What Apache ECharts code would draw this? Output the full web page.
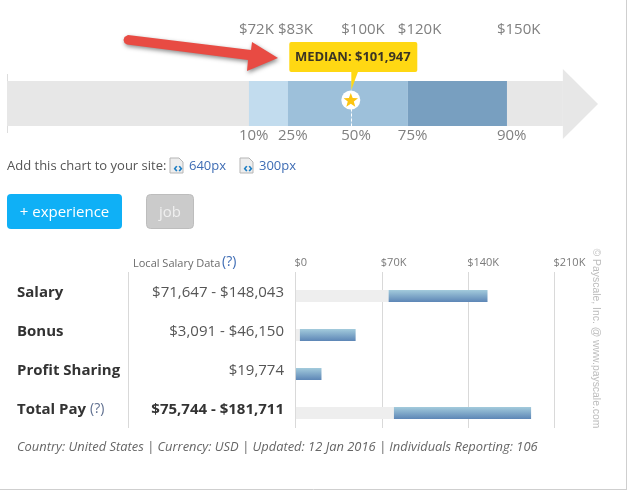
<!DOCTYPE html>
<html>
<head>
<meta charset="utf-8">
<style>html,body{margin:0;padding:0;background:#fff}#chart{width:629px;height:492px}</style>
<script src="https://cdn.jsdelivr.net/npm/echarts@6/dist/echarts.min.js"></script>
</head>
<body>
<div id="chart"></div>
<script>
// Percentile strip
const percentileValues = [71647, 83200, 101947, 118700, 148043];
const percentileMoney = ['$72K', '$83K', '$100K', '$120K', '$150K'];
const percentileNames = ['10%', '25%', '50%', '75%', '90%'];
const bandColors = ['#c2dcee', '#9dc0da', '#9dc0da', '#789fc0'];
const medianValue = 101947;
const medianText = 'MEDIAN: $101,947';
const stripMax = 175000;
const shaftEnd = 164600;

// Pay table
const payRows = ['Salary', 'Bonus', 'Profit Sharing', 'Total Pay'];
const payRangeText = ['$71,647 - $148,043', '$3,091 - $46,150', '$19,774', '$75,744 - $181,711'];
const payLow = [71647, 3091, 0, 75744];
const payHigh = [148043, 46150, 19774, 181711];
const payTicks = [0, 70000, 140000, 210000];
const payTickText = ['$0', '$70K', '$140K', '$210K'];

const FONT = '"Open Sans", sans-serif';
const chart = echarts.init(document.getElementById('chart'));

function text(x, y, str, o) {
  o = o || {};
  return {
    type: 'text', x: x, y: y, z: o.z || 5, rotation: o.rotation || 0,
    style: {
      text: str, fontFamily: o.family || FONT, fontSize: o.size || 13,
      fontWeight: o.weight || 'normal', fontStyle: o.italic ? 'italic' : 'normal',
      fill: o.color || '#555', align: o.align || 'left', verticalAlign: 'middle'
    }
  };
}
function rule(x1, y1, x2, y2, color) {
  return { type: 'line', z: 1, shape: { x1, y1, x2, y2 }, style: { stroke: color, lineWidth: 1 } };
}
function embedIcon(x, y) {
  return [
    { type: 'polygon', z: 5, shape: { points: [[x, y], [x + 9, y], [x + 13, y + 4], [x + 13, y + 15], [x, y + 15]] },
      style: { fill: '#eeeeee', stroke: '#b5b5b5', lineWidth: 1 } },
    text(x + 8, y + 10, '‹›', { size: 13, weight: 'bold', color: '#1f7fc4', align: 'center' })
  ];
}

const graphics = [
  // page frame
  rule(626.5, 0, 626.5, 489.5, '#cfcfcf'),
  rule(0, 489.5, 627, 489.5, '#cfcfcf'),
  // start of the strip
  rule(7.5, 74, 7.5, 133, '#dddddd'),
  // call-out arrow pointing at the median box
  { type: 'polygon', z: 8,
    shape: { points: [[128, 35], [251, 50], [252, 42], [278, 58], [247, 71], [248, 60], [127, 44.5], [124.5, 43], [123.5, 40], [124.5, 37]] },
    style: { fill: '#e84b43', shadowBlur: 4, shadowOffsetX: 1, shadowOffsetY: 2, shadowColor: 'rgba(0,0,0,0.45)' } },
  // embed line
  text(7, 166.5, 'Add this chart to your site:', { size: 13, color: '#555' }),
  ...embedIcon(170, 158), text(189, 166.5, '640px', { size: 13, color: '#3e6cb4' }),
  ...embedIcon(240, 158), text(259, 166.5, '300px', { size: 13, color: '#3e6cb4' }),
  // filter buttons
  { type: 'rect', z: 3, shape: { x: 7, y: 194, width: 115, height: 35, r: 4 }, style: { fill: '#0fb0f6' } },
  text(64.5, 213, '+ experience', { size: 15, color: '#ffffff', align: 'center' }),
  { type: 'rect', z: 3, shape: { x: 146.5, y: 194.5, width: 47, height: 34, r: 4 }, style: { fill: '#cbcbcb', stroke: '#bdbdbd' } },
  text(170, 213, 'job', { size: 15, color: '#efefef', align: 'center' }),
  // table header and divider
  text(133, 263.5, 'Local Salary Data', { size: 11, color: '#6b6b6b' }),
  text(222, 262.5, '(?)', { size: 14, color: '#3e6cb4' }),
  rule(128.5, 272, 128.5, 428, '#d9d9d9'),
  // footer and copyright
  text(17, 447.5, 'Country: United States | Currency: USD | Updated: 12 Jan 2016 | Individuals Reporting: 106',
    { size: 12.9, italic: true, color: '#666' }),
  text(596, 338.5, '© Payscale, Inc. @ www.payscale.com',
    { size: 10.4, color: '#bdbdbd', align: 'center', rotation: -Math.PI / 2, family: '"Liberation Sans", sans-serif' })
];

// Row captions and the stated ranges
payRows.forEach(function (name, i) {
  const y = 292.5 + i * 39;
  graphics.push(text(17, y, name, { size: 15, weight: 'bold', color: '#333' }));
  graphics.push(text(284, y, payRangeText[i], {
    size: 15, align: 'right', weight: i === 3 ? 'bold' : 'normal', color: i === 3 ? '#333' : '#555'
  }));
});
graphics.push(text(90, 409.5, '(?)', { size: 14, color: '#5f6f8f' }));

const barFill = {
  type: 'linear', x: 0, y: 0, x2: 0, y2: 1,
  colorStops: [{ offset: 0, color: '#a3cbdc' }, { offset: 1, color: '#5d86b6' }]
};

chart.setOption({
  animation: false,
  backgroundColor: '#ffffff',
  graphic: { elements: graphics },
  grid: [
    { left: 7, width: 591, top: 81, height: 45 },
    { left: 295.5, width: 259, top: 272, height: 156 }
  ],
  xAxis: [
    { gridIndex: 0, type: 'value', min: 0, max: stripMax, show: false },
    // visible pay scale with its gridlines
    { gridIndex: 1, type: 'value', position: 'top', min: 0, max: 210000, interval: 70000,
      axisLine: { show: false }, axisTick: { show: false },
      splitLine: { show: true, lineStyle: { color: '#d9d9d9', width: 1 } },
      axisLabel: {
        show: true, margin: 4, align: 'left', fontFamily: FONT, fontSize: 11, color: '#7a7a7a',
        customValues: payTicks, padding: [0, 0, 0, -1],
        formatter: function (v) { return payTickText[payTicks.indexOf(v)]; }
      } },
    // the bars run on a slightly tighter inner scale of the same width
    { gridIndex: 1, type: 'value', min: -300, max: 199800, show: false }
  ],
  yAxis: [
    { gridIndex: 0, type: 'value', min: 0, max: 1, show: false },
    { gridIndex: 1, type: 'value', inverse: true, min: -0.615, max: 3.385, show: false }
  ],
  series: [
    // grey shaft, head and coloured percentile bands
    { type: 'custom', xAxisIndex: 0, yAxisIndex: 0, silent: true, z: 2,
      data: [[0, percentileValues[0]], [percentileValues[4], shaftEnd]].concat(
        bandColors.map(function (c, i) { return [percentileValues[i], percentileValues[i + 1]]; })),
      renderItem: function (p, api) {
        const a = api.coord([api.value(0), 1]), b = api.coord([api.value(1), 0]);
        return { type: 'rect', shape: { x: a[0], y: a[1], width: b[0] - a[0], height: b[1] - a[1] },
          style: { fill: p.dataIndex < 2 ? '#e7e7e7' : bandColors[p.dataIndex - 2] } };
      }, encode: { x: [0, 1] } },
    { type: 'custom', xAxisIndex: 0, yAxisIndex: 0, silent: true, z: 2,
      data: [[shaftEnd, stripMax]],
      renderItem: function (p, api) {
        const base = api.value(0), tip = api.value(1);
        return { type: 'polygon', shape: { points: [
          api.coord([base, 1.267]), api.coord([tip, 0.49]), api.coord([base, -0.289])
        ] }, style: { fill: '#e7e7e7' } };
      } },
    // percentile captions above and below the strip
    { type: 'custom', xAxisIndex: 0, yAxisIndex: 0, silent: true, z: 3,
      data: percentileValues.map(function (v) { return [v]; }),
      renderItem: function (p, api) {
        const c = api.coord([api.value(0), 0]);
        const style = { fontFamily: FONT, fontSize: 15, fill: '#808080', verticalAlign: 'middle', align: 'left' };
        return { type: 'group', children: [
          { type: 'text', x: c[0] - 10, y: 30, style: Object.assign({ text: percentileMoney[p.dataIndex] }, style) },
          { type: 'text', x: c[0] - 10, y: 136, style: Object.assign({ text: percentileNames[p.dataIndex] }, style) }
        ] };
      } },
    // median box, pointer, star marker and dashed drop line
    { type: 'custom', xAxisIndex: 0, yAxisIndex: 0, silent: true, z: 4,
      data: [[medianValue]],
      renderItem: function (p, api) {
        const c = api.coord([api.value(0), 0.5]);
        const top = api.coord([api.value(0), 1])[1], bottom = api.coord([api.value(0), 0])[1];
        const star = [];
        for (let i = 0; i < 10; i++) {
          const r = i % 2 ? 3.2 : 7.6, t = -Math.PI / 2 + i * Math.PI / 5;
          star.push([c[0] - 0.5 + r * Math.cos(t), c[1] - 3 + r * Math.sin(t)]);
        }
        return { type: 'group', children: [
          { type: 'rect', shape: { x: c[0] - 62, y: top - 39, width: 128, height: 30, r: 2 }, style: { fill: '#ffd813' } },
          { type: 'polygon', shape: { points: [[c[0], top - 10], [c[0] + 7, top - 10], [c[0], top + 9]] }, style: { fill: '#ffd813' } },
          { type: 'line', shape: { x1: c[0] + 0.2, y1: c[1] + 5, x2: c[0] + 0.2, y2: bottom },
            style: { stroke: '#ffffff', lineWidth: 1, lineDash: [3, 2] } },
          { type: 'circle', shape: { cx: c[0] - 0.5, cy: c[1] - 3.5, r: 9.5 }, style: { fill: '#ffffff' } },
          { type: 'polygon', shape: { points: star }, style: { fill: '#fcc410' } },
          { type: 'text', x: c[0] + 1.5, y: top - 23.5,
            style: { text: medianText, fontFamily: FONT, fontSize: 13, fontWeight: 'bold', fill: '#3b3424', align: 'center', verticalAlign: 'middle' } }
        ] };
      } },
    // pay rows: pale run-in up to the low value, then the gradient range
    { type: 'custom', xAxisIndex: 2, yAxisIndex: 1, silent: true, z: 3,
      data: payRows.map(function (n, i) { return [payLow[i], payHigh[i], i]; }),
      renderItem: function (p, api) {
        const row = api.value(2);
        const start = api.coord([0, row]), lo = api.coord([api.value(0), row]), hi = api.coord([api.value(1), row]);
        const h = 12, y = start[1] - h / 2;
        return { type: 'group', children: [
          { type: 'rect', shape: { x: start[0], y: y, width: lo[0] - start[0], height: h }, style: { fill: '#eeeeee' } },
          { type: 'rect', shape: { x: lo[0], y: y, width: hi[0] - lo[0], height: h }, style: { fill: barFill } }
        ] };
      } }
  ]
});
</script>
</body>
</html>
